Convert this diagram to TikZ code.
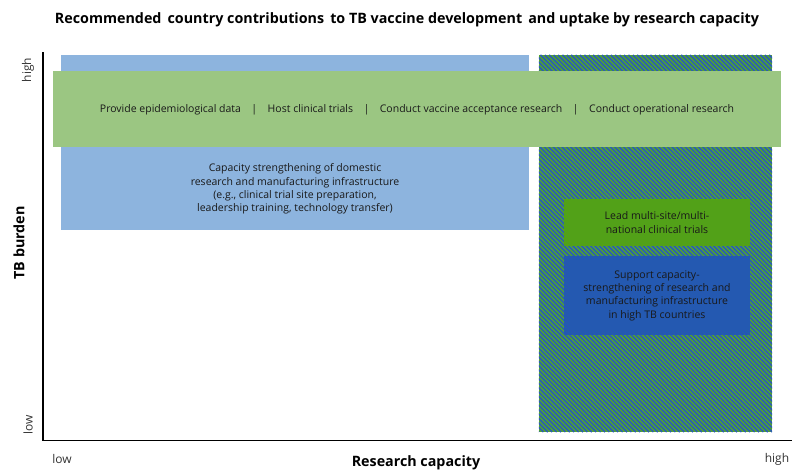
\documentclass[tikz,border=0pt]{standalone}
\usepackage{fontspec}
\setmainfont{Open Sans}
\begin{document}
\begin{tikzpicture}[x=1pt,y=-1pt,
  lbl/.style={font=\fontsize{10.5}{13.3}\selectfont, text=black!90, align=center, inner sep=0pt},
  axlbl/.style={font=\fontsize{12}{13}\selectfont, text=black!80, inner sep=0pt},
  boldlbl/.style={font=\fontsize{14.3}{15}\selectfont\bfseries, inner sep=0pt}]
\definecolor{lightblue}{HTML}{8DB4DE}
\definecolor{bandgreen}{HTML}{9BC682}
\definecolor{leadgreen}{HTML}{52A118}
\definecolor{darkblue}{HTML}{2459B1}
\definecolor{hatchblue}{HTML}{2C5DB4}
\definecolor{hatchgreen}{HTML}{52A62C}
\useasboundingbox (0,0) rectangle (792,469);
% title
\node[font=\fontsize{14.3}{16}\selectfont\bfseries, inner sep=0pt] (title) at (407,20) {Recommended\, country contributions\, to TB vaccine development\, and uptake by research capacity};
% blue rect
\node[fill=lightblue, minimum width=468pt, minimum height=175pt, inner sep=0pt] (domestic) at (295,142.5) {};
% hatched rect
\node[fill=hatchgreen, minimum width=233pt, minimum height=377pt, inner sep=0pt] (hatch) at (655.5,243.5) {};
\begin{scope}
\clip (hatch.north west) rectangle (hatch.south east);
\foreach \i in {0,...,140} {
  \draw[hatchblue, line width=1.55pt] ({162+\i*4.4},55) -- ({162+\i*4.4+377},432);
}
\end{scope}
% green band
\node[fill=bandgreen, minimum width=728pt, minimum height=76pt, inner sep=0pt] (band) at (417,109) {};
\node[lbl] (bandtxt) at (417,109.5) {Provide epidemiological data\quad|\quad Host clinical trials\quad|\quad Conduct vaccine acceptance research\quad|\quad Conduct operational research};
% domestic text
\node[lbl] (domtxt) at (295,189) {Capacity strengthening of domestic\\research and manufacturing infrastructure\\(e.g., clinical trial site preparation,\\leadership training, technology transfer)};
% lead box
\node[fill=leadgreen, minimum width=186pt, minimum height=47pt, inner sep=0pt] (lead) at (657,222.5) {};
\node[lbl] (leadtxt) at (lead.center) {Lead multi-site/multi-\\national clinical trials};
% support box
\node[fill=darkblue, minimum width=186pt, minimum height=79pt, inner sep=0pt] (support) at (657,295.5) {};
\node[lbl] (supporttxt) at (support.center) {Support capacity-\\strengthening of research and\\manufacturing infrastructure\\in high TB countries};
% axes
\coordinate (origin) at (43,440.5);
\coordinate (ytop) at (43,52);
\coordinate (xend) at (792,440.5);
\draw[line width=1.4pt] (ytop) -- (origin) -- (xend);
\node[axlbl, rotate=90] (yhigh) at (28,70) {high};
\node[axlbl, rotate=90] (ylow) at (28,425) {low};
\node[axlbl] (xlow) at (62,459) {low};
\node[axlbl] (xhigh) at (777,459) {high};
\node[boldlbl, rotate=90] (ytitle) at (19,243) {TB burden};
\node[boldlbl] (xtitle) at (416,463) {Research capacity};
\end{tikzpicture}
\end{document}
